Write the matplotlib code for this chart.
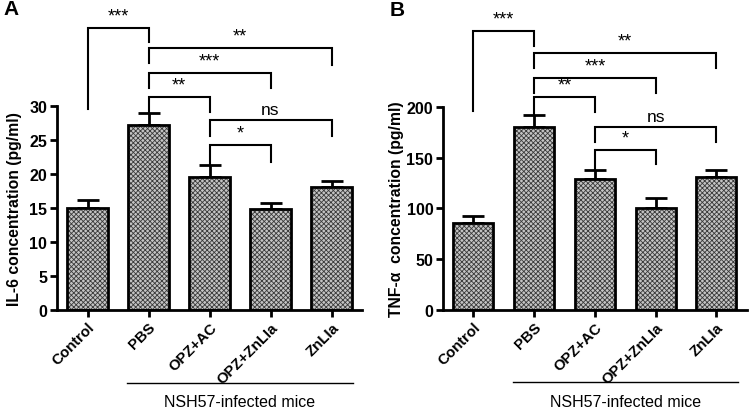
import numpy as np
import matplotlib
matplotlib.use("Agg")
import matplotlib.pyplot as plt
from matplotlib.lines import Line2D

plt.rcParams['font.family'] = ['Liberation Sans', 'DejaVu Sans']
plt.rcParams['hatch.linewidth'] = 0.6

groups = ["Control", "PBS", "OPZ+AC", "OPZ+ZnLIa", "ZnLIa"]

il6_mean = [15.0, 27.2, 19.6, 14.9, 18.1]
il6_err = [1.1, 1.8, 1.7, 0.8, 0.9]

tnf_mean = [86, 180, 129, 100, 131]
tnf_err = [7, 12, 9, 10, 7]

# significance brackets: (left group, right group, top, left leg end, right leg end, label)
il6_sig = [
    (0, 1, 41.5, 29.6, 39.4, "***"),
    (1, 4, 38.5, 36.3, 36.0, "**"),
    (1, 3, 34.9, 32.6, 32.6, "***"),
    (1, 2, 31.3, 29.1, 29.1, "**"),
    (2, 4, 27.9, 25.6, 25.6, "ns"),
    (2, 3, 24.3, 21.4, 21.8, "*"),
]
tnf_sig = [
    (0, 1, 275, 196, 260, "***"),
    (1, 4, 253, 238, 238, "**"),
    (1, 3, 228.6, 214, 214, "***"),
    (1, 2, 210, 193, 195, "**"),
    (2, 4, 180, 165.5, 165.5, "ns"),
    (2, 3, 157.6, 139, 144, "*"),
]

LW = 2.0


def panel(ax, means, errs, sig, ymax, ytop, ystep, ylabel, label_x, letter):
    x = np.arange(len(groups))
    # checker-like fill, then the black outline on top
    ax.bar(x, means, width=0.66, color="#c4c4c4", edgecolor="#3a3a3a",
           hatch="xxxxxxx", linewidth=0, zorder=2)
    ax.bar(x, means, width=0.66, facecolor="none", edgecolor="black",
           linewidth=LW, zorder=3)
    ax.errorbar(x, means, yerr=[np.zeros(len(errs)), errs], fmt="none",
                ecolor="black", elinewidth=LW, capsize=8, capthick=LW, zorder=1)

    for a, b, top, yl, yr, lab in sig:
        ax.plot([a, a, b, b], [yl, top, top, yr], color="black", lw=1.5,
                clip_on=False, solid_joinstyle="miter")
        ax.annotate(lab, xy=((a + b) / 2, top), xytext=(0, 2.5),
                    textcoords="offset points", ha="center", va="bottom",
                    fontsize=12.5 if lab == "ns" else 13)

    ax.set_xlim(-0.5, 4.5)
    ax.set_ylim(0, ymax)
    ax.set_yticks(np.arange(0, ytop + 1, ystep))
    ax.spines["top"].set_visible(False)
    ax.spines["right"].set_visible(False)
    ax.spines["left"].set_bounds(0, ytop)
    ax.spines["left"].set_linewidth(LW)
    ax.spines["bottom"].set_linewidth(LW)
    ax.tick_params(width=LW, length=5, labelsize=11.5, pad=2)
    for t in ax.get_yticklabels():
        t.set_fontweight("bold")
    ax.set_xticks(x)
    ax.set_xticklabels(groups, rotation=45, ha="right", rotation_mode="anchor",
                       fontweight="bold", fontsize=10.8)
    ax.set_ylabel(ylabel, fontweight="bold", fontsize=11.3)
    ax.yaxis.set_label_coords(label_x, ytop / ymax / 2)

    trans = ax.get_xaxis_transform()
    ax.add_line(Line2D([0.65, 4.36], [-0.238, -0.238], transform=trans,
                       color="black", lw=1.0, clip_on=False))
    ax.text(2.5, -0.30, "NSH57-infected mice", transform=trans,
            ha="center", va="center", fontsize=11.5)
    ax.text(-0.175, 0.985, letter, transform=ax.transAxes, fontsize=15,
            fontweight="bold", ha="left", va="center")


fig = plt.figure(figsize=(7.5, 4.14), dpi=100)
axA = fig.add_axes([0.076, 0.249, 0.4067, 0.739])
axB = fig.add_axes([0.5907, 0.249, 0.405, 0.7355])

panel(axA, il6_mean, il6_err, il6_sig, 45, 30, 5,
      "IL-6 concentration (pg/ml)", -0.115, "A")
panel(axB, tnf_mean, tnf_err, tnf_sig, 300, 200, 50,
      "TNF-α  concentration (pg/ml)", -0.13, "B")

fig.savefig("out.png", dpi=100)
